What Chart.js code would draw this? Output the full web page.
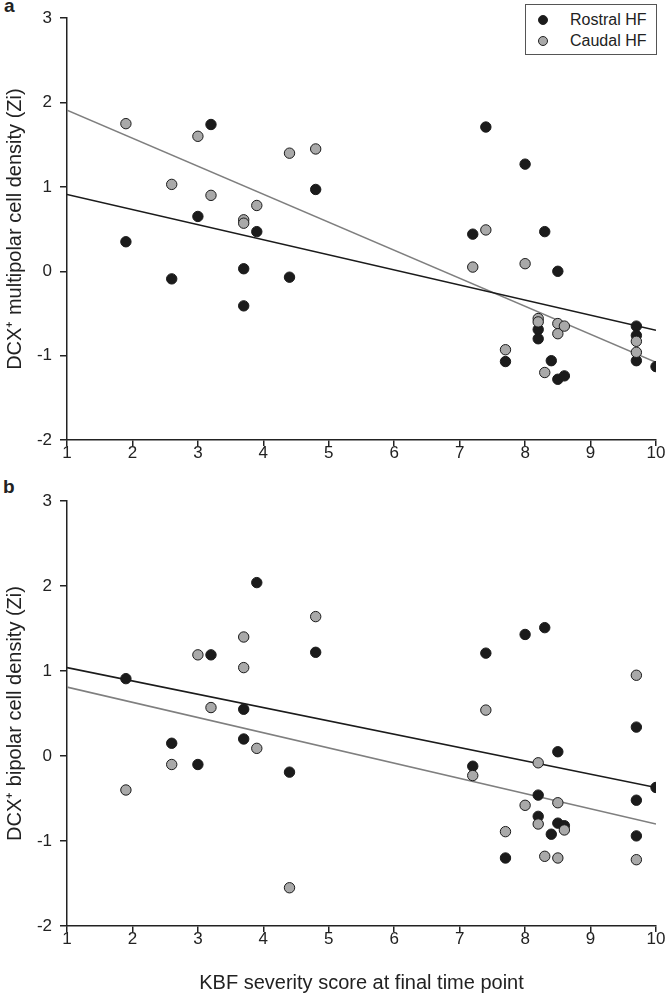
<!DOCTYPE html>
<html>
<head>
<meta charset="utf-8">
<script src="https://cdn.jsdelivr.net/npm/chart.js@4.4.1/dist/chart.umd.min.js"></script>
<style>
  body { margin: 0; background: #fff; font-family: "Liberation Sans", Arial, sans-serif; color: #222; }
  #page { position: relative; width: 666px; height: 995px; overflow: hidden; }
  .panel { position: absolute; left: 0; }
  .tag { position: absolute; font-weight: bold; font-size: 19px; line-height: 19px; }
  #legend { position: absolute; left: 525px; top: 4px; width: 132px; height: 51px; box-sizing: border-box; border: 1px solid #555; background: #fff; }
  .item { position: absolute; left: 0; height: 20px; line-height: 20px; font-size: 16px; }
  .dot { position: absolute; left: 12px; top: 5px; width: 10px; height: 10px; border-radius: 50%; box-sizing: border-box; border: 1px solid #222; }
  .item span.lbl { position: absolute; left: 44px; white-space: nowrap; }
</style>
</head>
<body>
<div id="page">
  <div class="tag" style="left:4px; top:-4px;">a</div>
  <div class="tag" style="left:3px; top:477px;">b</div>
  <div class="panel" style="top:0;"><canvas id="chartA" width="666" height="475"></canvas></div>
  <div class="panel" style="top:480px;"><canvas id="chartB" width="666" height="515"></canvas></div>
  <div id="legend"></div>
</div>
<script>
// KBF scores (x) for each region
const scoresRostral = [1.9, 2.6, 3.0, 3.2, 3.7, 3.7, 3.9, 4.4, 4.8, 7.2, 7.4, 7.7, 8.0, 8.2, 8.2, 8.3, 8.4, 8.5, 8.5, 8.6, 9.7, 9.7, 9.7, 10];
const scoresCaudal = [1.9, 2.6, 3.0, 3.2, 3.7, 3.7, 3.9, 4.4, 4.8, 7.2, 7.4, 7.7, 8.0, 8.2, 8.2, 8.3, 8.5, 8.5, 8.6, 9.7, 9.7];

// panel a: multipolar density (Zi)
const multiRostral = [0.35, -0.09, 0.65, 1.74, 0.03, -0.41, 0.47, -0.07, 0.97, 0.44, 1.71, -1.07, 1.27, -0.69, -0.80, 0.47, -1.06, 0.0, -1.28, -1.24, -0.65, -0.76, -1.06, -1.13];
const multiCaudal = [1.75, 1.03, 1.6, 0.9, 0.61, 0.57, 0.78, 1.4, 1.45, 0.05, 0.49, -0.93, 0.09, -0.56, -0.6, -1.2, -0.62, -0.74, -0.65, -0.83, -0.96];

// panel b: bipolar density (Zi)
const biRostral = [0.91, 0.15, -0.1, 1.19, 0.55, 0.2, 2.04, -0.19, 1.22, -0.12, 1.21, -1.2, 1.43, -0.46, -0.71, 1.51, -0.92, 0.05, -0.79, -0.82, 0.34, -0.52, -0.94, -0.37];
const biCaudal = [-0.4, -0.1, 1.19, 0.57, 1.4, 1.04, 0.09, -1.55, 1.64, -0.23, 0.54, -0.89, -0.58, -0.08, -0.8, -1.18, -0.55, -1.2, -0.87, 0.95, -1.22];

// regression lines, value at x = 1 and x = 10
const fitX = [1, 10];
const fitMultiRostral = [0.91, -0.70];
const fitMultiCaudal = [1.91, -1.08];
const fitBiRostral = [1.04, -0.37];
const fitBiCaudal = [0.81, -0.80];

const seriesNames = ["Rostral HF", "Caudal HF"];
const xTicks = [1, 2, 3, 4, 5, 6, 7, 8, 9, 10];
const yTicks = [-2, -1, 0, 1, 2, 3];

const BLACK = "#1b1b1b";
const GREY = "#a9a9a9";
const INK = "#222";

Chart.defaults.font.family = '"Liberation Sans", Arial, sans-serif';
Chart.defaults.color = INK;

const toPoints = (xs, ys) => xs.map((x, i) => ({ x, y: ys[i] }));

const pointSet = (label, xs, ys, fill, order) => ({
  type: "scatter",
  label,
  data: toPoints(xs, ys),
  backgroundColor: fill,
  borderColor: "#1a1a1a",
  borderWidth: 1,
  pointRadius: 5.2,
  order,
});

const lineSet = (ys, color, order) => ({
  type: "line",
  data: toPoints(fitX, ys),
  borderColor: color,
  borderWidth: 1.6,
  pointRadius: 0,
  fill: false,
  order,
});

const makeScales = (yTitle, xTitle, xHeight) => ({
  x: {
    type: "linear",
    min: 1,
    max: 10,
    afterBuildTicks: (s) => { s.ticks = xTicks.map((v) => ({ value: v })); },
    ticks: { font: { size: 17 }, padding: -3, color: INK },
    grid: { drawOnChartArea: false, tickLength: 6, color: INK, lineWidth: 1.5 },
    border: { color: INK, width: 1.5 },
    title: { display: !!xTitle, text: xTitle, font: { size: 20 }, color: INK, padding: 0 },
    afterFit: (s) => { s.height = xHeight; },
  },
  y: {
    type: "linear",
    min: -2,
    max: 3,
    afterBuildTicks: (s) => { s.ticks = yTicks.map((v) => ({ value: v })); },
    ticks: { font: { size: 17 }, padding: 8, color: INK },
    grid: { drawOnChartArea: false, tickLength: 7, color: INK, lineWidth: 1.5 },
    border: { color: INK, width: 1.5 },
    title: { display: true, text: yTitle, font: { size: 20 }, color: INK, padding: { top: 3, bottom: 0 } },
    afterFit: (s) => { s.width = 67; },
  },
});

const makeChart = (id, rostral, caudal, fitR, fitC, yTitle, xTitle, padTop, xHeight) =>
  new Chart(document.getElementById(id), {
    data: {
      datasets: [
        pointSet(seriesNames[1], scoresCaudal, caudal, GREY, 0),
        pointSet(seriesNames[0], scoresRostral, rostral, BLACK, 1),
        lineSet(fitR, BLACK, 2),
        lineSet(fitC, "#7f7f7f", 3),
      ],
    },
    options: {
      responsive: false,
      animation: false,
      events: [],
      layout: { padding: { top: padTop, right: 10, left: 0, bottom: 0 } },
      plugins: { legend: { display: false }, tooltip: { enabled: false } },
      scales: makeScales(yTitle, xTitle, xHeight),
    },
  });

makeChart("chartA", multiRostral, multiCaudal, fitMultiRostral, fitMultiCaudal,
  "DCX\u207A multipolar cell density (Zi)", "", 15, 35);
makeChart("chartB", biRostral, biCaudal, fitBiRostral, fitBiCaudal,
  "DCX\u207A bipolar cell density (Zi)", "KBF severity score at final time point", 21, 69);

// legend box (panel a only)
const legend = document.getElementById("legend");
[BLACK, GREY].forEach((color, i) => {
  const item = document.createElement("div");
  item.className = "item";
  item.style.top = 5 + i * 21 + "px";
  item.style.width = "100%";
  item.innerHTML = `<div class="dot" style="background:${color}"></div><span class="lbl">${seriesNames[i]}</span>`;
  legend.appendChild(item);
});
</script>
</body>
</html>
